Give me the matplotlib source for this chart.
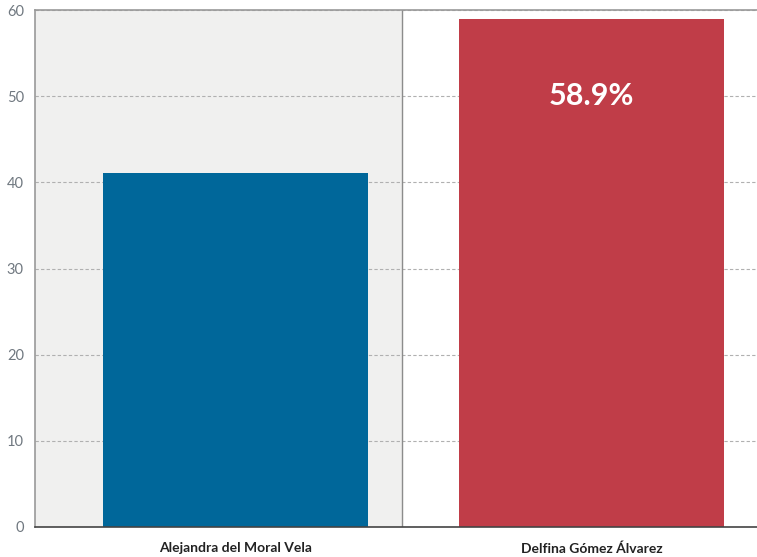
import matplotlib.pyplot as plt

candidates = ["Alejandra del Moral Vela", "Delfina Gómez Álvarez"]
votes = [41.1, 58.9]
colors = ["#00679a", "#c03d48"]
yticks = [0, 10, 20, 30, 40, 50, 60]

plt.rcParams['font.family'] = ['Lato', 'DejaVu Sans']

fig = plt.figure(figsize=(7.57, 5.57), dpi=100)
ax = fig.add_axes([35 / 757, 30 / 557, 722 / 757, 517 / 557])

x = list(range(len(candidates)))
ax.set_xlim(-0.563, 1.465)
ax.set_ylim(0, 60)

# shaded band behind the first candidate and a divider line
ax.axvspan(-0.563, 0.469, color="#f0f0ef", zorder=0)
ax.axvline(0.469, color="#8c8c8c", lw=1, zorder=1)

ax.set_yticks(yticks)
ax.yaxis.grid(True, ls=(0, (3, 2)), color="#b0b0b0", lw=0.8, zorder=1)
ax.set_axisbelow(True)

ax.bar(x, votes, width=0.745, color=colors, zorder=2)

# winner label inside the bar
ax.annotate(f"{votes[1]}%", xy=(x[1], votes[1]), xytext=(0, -77),
            textcoords="offset pixels", ha="center", va="center",
            color="white", fontsize=22, fontweight="bold")

ax.set_xticks(x)
ax.set_xticklabels(candidates, fontsize=10, fontweight="bold", color="#222222")
ax.tick_params(axis="x", length=0, pad=11)
ax.tick_params(axis="y", length=0, pad=8, labelsize=10.5, labelcolor="#707880")

for side in ["top", "left"]:
    ax.spines[side].set_color("#999999")
    ax.spines[side].set_linewidth(1.2)
ax.spines["right"].set_visible(False)
ax.spines["bottom"].set_color("#444444")
ax.spines["bottom"].set_linewidth(1.2)

fig.savefig("out.png", dpi=100)
